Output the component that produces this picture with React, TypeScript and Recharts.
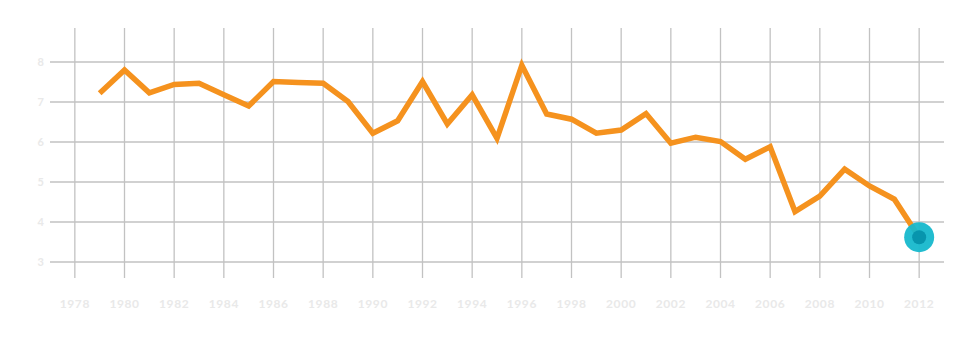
import { CartesianGrid, Line, LineChart, XAxis, YAxis } from "recharts";

const years = [
  1979, 1980, 1981, 1982, 1983, 1984, 1985, 1986, 1987, 1988, 1989, 1990, 1991, 1992, 1993, 1994, 1995,
  1996, 1997, 1998, 1999, 2000, 2001, 2002, 2003, 2004, 2005, 2006, 2007, 2008, 2009, 2010, 2011, 2012
];

const values = [
  7.22, 7.8, 7.23, 7.44, 7.47, 7.18, 6.9, 7.51, 7.49, 7.47, 7.01, 6.22, 6.53, 7.51, 6.45, 7.18, 6.09,
  7.92, 6.7, 6.57, 6.22, 6.3, 6.71, 5.97, 6.12, 6.01, 5.57, 5.88, 4.26, 4.65, 5.32, 4.9, 4.57, 3.62
];

const xTicks = [1978, 1980, 1982, 1984, 1986, 1988, 1990, 1992, 1994, 1996, 1998, 2000, 2002, 2004, 2006, 2008, 2010, 2012];
const yTicks = [3, 4, 5, 6, 7, 8];

const data = years.map((year, i) => ({ year, value: values[i] }));

const labelStyle = { fill: "#e9e9e9", fontSize: 12, fontFamily: "Lato, sans-serif", fontWeight: 700 };

function LastDot(props: any) {
  const { cx, cy, index } = props;
  if (index !== data.length - 1) return <g key={index} />;
  return (
    <g key={index}>
      <circle cx={cx} cy={cy} r={15} fill="#16b8cc" fillOpacity={0.95} />
      <circle cx={cx} cy={cy} r={7} fill="#0795ad" />
    </g>
  );
}

export default function App() {
  return (
    <div style={{ width: 946, height: 356 }}>
      <LineChart width={946} height={356} data={data} margin={{ top: 20, right: 10, left: 0, bottom: 56 }}>
        <CartesianGrid stroke="#c2c2c2" strokeWidth={1.3} syncWithTicks />
        <XAxis
          dataKey="year"
          type="number"
          domain={[1977, 2013]}
          ticks={xTicks}
          interval={0}
          axisLine={false}
          tickLine={false}
          tickMargin={15}
          height={30}
          tick={{ ...labelStyle, letterSpacing: 0.6 }}
        />
        <YAxis
          domain={[2.6, 8.85]}
          ticks={yTicks}
          interval={0}
          axisLine={false}
          tickLine={false}
          tickMargin={0}
          width={42}
          tick={{ ...labelStyle, fontSize: 11 }}
        />
        <Line
          dataKey="value"
          stroke="#f5921e"
          strokeWidth={5.5}
          strokeLinejoin="miter"
          dot={LastDot}
          activeDot={false}
          isAnimationActive={false}
        />
      </LineChart>
    </div>
  );
}
